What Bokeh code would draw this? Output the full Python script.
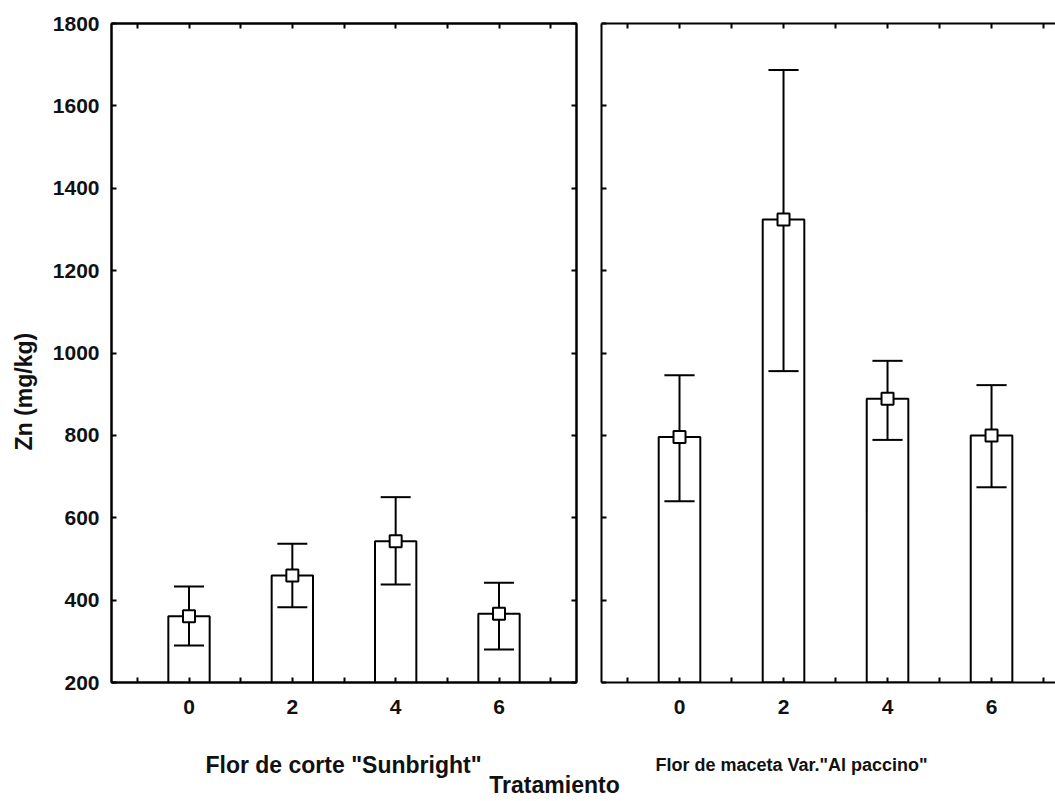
import math
from bokeh.plotting import figure
from bokeh.models import LinearAxis, FixedTicker, Range1d, Label
from bokeh.layouts import row, column
from bokeh.embed import file_html
from bokeh.resources import INLINE

# ---------------- data ----------------
treatments = [0, 2, 4, 6]
sun_mean = [361, 460, 543, 367]
sun_upper = [433, 537, 650, 442]
sun_lower = [290, 383, 438, 280]
pac_mean = [796, 1324, 889, 800]
pac_upper = [946, 1687, 981, 922]
pac_lower = [640, 956, 789, 674]
y_ticks = [200, 400, 600, 800, 1000, 1200, 1400, 1600, 1800]
x_minor_ticks = [-1, 0, 1, 2, 3, 4, 5, 6, 7]
x_tick_labels = ["0", "2", "4", "6"]
panel_titles = ['Flor de corte "Sunbright"', 'Flor de maceta Var."Al paccino"']
y_title = "Zn (mg/kg)"
x_title = "Tratamiento"

# ---------------- style ----------------
FONT = "Liberation Sans"
INK = "#111111"
Y0, Y1 = 200, 1800
W, HTOT = 1055, 801
H = 725            # height of the panel row
TOP, BOTTOM = 23, 43
BAR_W = 0.8
CAP_HALF = 0.29
YT_W = 40          # width of the y-title strip


def style_axis(ax, labels):
    ax.axis_line_color = "black"
    ax.axis_line_width = 2
    ax.major_tick_line_color = "black"
    ax.major_tick_line_width = 2
    ax.major_tick_in = 5
    ax.major_tick_out = 0
    ax.minor_tick_line_color = None
    if labels:
        ax.major_label_text_font = FONT
        ax.major_label_text_font_style = "bold"
        ax.major_label_text_font_size = "21px"
        ax.major_label_text_color = INK
    else:
        ax.major_label_text_font_size = "10px"
        ax.major_label_standoff = 0


def blank(ticks):
    return {t: "" for t in ticks}


def make_panel(means, uppers, lowers, width, b_left, b_right, x_end, first):
    p = figure(width=width, height=H, x_range=Range1d(-1.5, x_end),
               y_range=Range1d(Y0, Y1), output_backend="svg",
               toolbar_location=None, x_axis_location=None, y_axis_location=None,
               min_border_left=b_left, min_border_right=b_right,
               min_border_top=TOP, min_border_bottom=BOTTOM,
               background_fill_color="white", border_fill_color="white")
    p.grid.visible = False
    xt = FixedTicker(ticks=x_minor_ticks)
    yt = FixedTicker(ticks=y_ticks)
    overrides = {t: (str(t) if str(t) in x_tick_labels else "") for t in x_minor_ticks}

    bottom = LinearAxis(ticker=xt, major_label_overrides=overrides)
    style_axis(bottom, True)
    bottom.major_label_standoff = 17
    p.add_layout(bottom, "below")

    top = LinearAxis(ticker=xt, major_label_overrides=blank(x_minor_ticks))
    style_axis(top, False)
    p.add_layout(top, "above")

    if first:
        left = LinearAxis(ticker=yt)
        style_axis(left, True)
        left.major_label_standoff = 12
    else:
        left = LinearAxis(ticker=yt, major_label_overrides=blank(y_ticks))
        style_axis(left, False)
    p.add_layout(left, "left")

    if first:
        right = LinearAxis(ticker=yt, major_label_overrides=blank(y_ticks))
        style_axis(right, False)
        p.add_layout(right, "right")
        p.outline_line_color = "black"
        p.outline_line_width = 2
    else:
        p.outline_line_color = None

    p.vbar(x=treatments, width=BAR_W, bottom=Y0, top=means,
           fill_color="white", line_color="black", line_width=2)
    p.segment(x0=treatments, y0=lowers, x1=treatments, y1=uppers,
              line_color="black", line_width=2)
    xl = [t - CAP_HALF for t in treatments]
    xr = [t + CAP_HALF for t in treatments]
    p.segment(x0=xl, y0=uppers, x1=xr, y1=uppers, line_color="black", line_width=2)
    p.segment(x0=xl, y0=lowers, x1=xr, y1=lowers, line_color="black", line_width=2)
    p.scatter(x=treatments, y=means, marker="square", size=12,
              fill_color="white", line_color="black", line_width=2)
    return p


def text_strip(width, height):
    s = figure(width=width, height=height, x_range=Range1d(0, width),
               y_range=Range1d(0, height), output_backend="svg",
               toolbar_location=None, x_axis_location=None, y_axis_location=None,
               min_border=0, outline_line_color=None,
               background_fill_color="white", border_fill_color="white")
    s.grid.visible = False
    return s


p1 = make_panel(sun_mean, sun_upper, sun_lower, 588 - YT_W, 111 - YT_W, 12, 7.5, True)
p2 = make_panel(pac_mean, pac_upper, pac_lower, 467, 13, 0, 7.23, False)

# y-axis title strip (left)
ys = text_strip(YT_W, H)
ys.add_layout(Label(x=23, y=H - 405, text=y_title, angle=math.pi / 2,
                    text_align="center", text_baseline="middle",
                    text_font=FONT, text_font_style="bold",
                    text_font_size="23px", text_color=INK))

# bottom strip: panel titles and common x title
bs_h = HTOT - H
bs = text_strip(W, bs_h)
bs.add_layout(Label(x=343, y=HTOT - 764, text=panel_titles[0],
                    text_align="center", text_baseline="alphabetic",
                    text_font=FONT, text_font_style="bold",
                    text_font_size="23px", text_color=INK))
bs.add_layout(Label(x=791, y=HTOT - 764, text=panel_titles[1],
                    text_align="center", text_baseline="alphabetic",
                    text_font=FONT, text_font_style="bold",
                    text_font_size="18px", text_color=INK))
bs.add_layout(Label(x=554, y=HTOT - 784, text=x_title,
                    text_align="center", text_baseline="alphabetic",
                    text_font=FONT, text_font_style="bold",
                    text_font_size="23px", text_color=INK))

layout = column(row(ys, p1, p2), bs)
open("out.html", "w").write(file_html(layout, INLINE))
